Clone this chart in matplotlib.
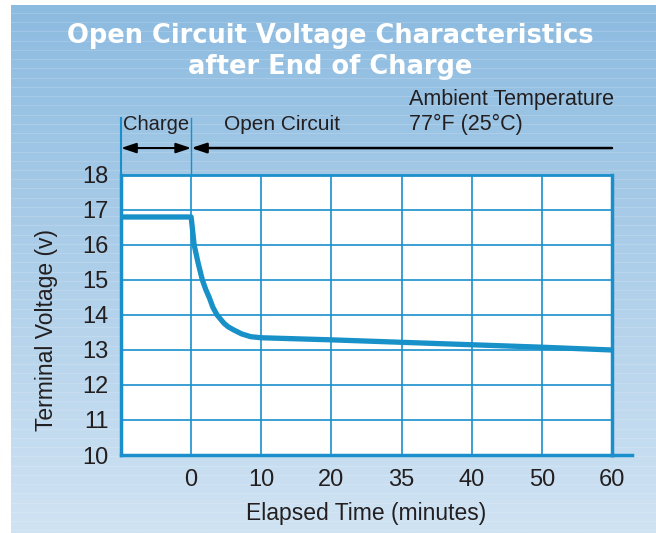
import numpy as np
import matplotlib
matplotlib.use("Agg")
import matplotlib.pyplot as plt

# data (time in minutes, voltage in volts)
minutes = [-10, 0, 0.2, 0.43, 1.0, 1.6, 2.1, 2.6, 3.1, 3.7, 4.7, 5.3, 6.1, 7.2, 8.5, 10,
           20, 30, 40, 50, 60]
volts = [16.8, 16.8, 16.43, 16.0, 15.48, 15.0, 14.72, 14.49, 14.22, 14.0, 13.76, 13.66, 13.57,
         13.46, 13.38, 13.35, 13.29, 13.22, 13.15, 13.08, 13.0]

x_ticks = [0, 10, 20, 30, 40, 50, 60]
x_labels = ['0', '10', '20', '35', '40', '50', '60']
y_ticks = [10, 11, 12, 13, 14, 15, 16, 17, 18]

BLUE = '#1a8fcc'
LINE = '#1890c8'
DARK = '#231f20'

plt.rcParams['font.family'] = ['Liberation Sans', 'DejaVu Sans']

W, H = 656, 533
fig = plt.figure(figsize=(W / 100, H / 100), dpi=100, facecolor='white')

# blue gradient panel behind everything
bg = fig.add_axes([11 / W, 0, (W - 11) / W, (H - 5) / H], zorder=-5)
top = np.array([0x8c, 0xbb, 0xe0]) / 255
bot = np.array([0xd0, 0xe3, 0xf3]) / 255
t = np.linspace(0, 1, 256)[:, None]
grad = top + (bot - top) * t
bg.imshow(grad[:, None, :].repeat(2, axis=1), aspect='auto', extent=[0, 1, 0, 1], origin='upper')
for yy in np.arange(0.005, 1, 0.0175):
    bg.axhline(yy, color='white', lw=0.6, alpha=0.18)
bg.set_xlim(0, 1)
bg.set_ylim(0, 1)
bg.axis('off')

fig.text(330 / W, 1 - 36 / H, 'Open Circuit Voltage Characteristics', color='white',
         fontsize=18.5, fontweight='bold', family=['DejaVu Sans'], ha='center', va='center')
fig.text(330 / W, 1 - 67 / H, 'after End of Charge', color='white',
         fontsize=18.5, fontweight='bold', family=['DejaVu Sans'], ha='center', va='center')

ax = fig.add_axes([121 / W, 78 / H, 491 / W, 280 / H])
ax.set_facecolor('white')
ax.plot(minutes, volts, color=LINE, lw=3.8, solid_capstyle='butt', solid_joinstyle='round', zorder=3)

ax.set_xlim(-10, 60)
ax.set_ylim(10, 18)
ax.set_xticks(x_ticks)
ax.set_xticklabels(x_labels)
ax.set_yticks(y_ticks)
ax.tick_params(length=0, labelsize=17, colors=DARK)
ax.tick_params(axis='x', pad=10)
ax.tick_params(axis='y', pad=9)
ax.grid(True, color=BLUE, lw=1.2)
for side, w in [('left', 2.5), ('bottom', 2.5), ('top', 2), ('right', 2.5)]:
    ax.spines[side].set_color(BLUE)
    ax.spines[side].set_linewidth(w)

ax.plot([60, 62.9], [10, 10], color=BLUE, lw=2.5, clip_on=False)
ax.plot([-10, -10], [18, 19.63], color=BLUE, lw=1.5, clip_on=False)
ax.plot([0, 0], [18, 19.63], color=BLUE, lw=1, clip_on=False)

ax.annotate('', xy=(-10, 18.77), xytext=(0, 18.77), annotation_clip=False,
            arrowprops=dict(arrowstyle='<|-|>,head_length=0.9,head_width=0.3', color='black', lw=1.5,
                            shrinkA=0, shrinkB=0))
ax.annotate('', xy=(0, 18.77), xytext=(60, 18.77), annotation_clip=False,
            arrowprops=dict(arrowstyle='-|>,head_length=0.9,head_width=0.3', color='black', lw=1.8,
                            shrinkA=0, shrinkB=0))

ax.text(-5.0, 19.45, 'Charge', fontsize=14.5, color=DARK, ha='center', va='center')
ax.text(13, 19.45, 'Open Circuit', fontsize=15, color=DARK, ha='center', va='center')
ax.text(31, 20.15, 'Ambient Temperature', fontsize=15.5, color=DARK, ha='left', va='center')
ax.text(31, 19.45, '77°F (25°C)', fontsize=15.5, color=DARK, ha='left', va='center')

ax.set_xlabel('Elapsed Time (minutes)', fontsize=16.5, color=DARK, labelpad=8)
fig.text(47 / W, 1 - 330 / H, 'Terminal Voltage (v)', fontsize=16.5, color=DARK,
         rotation=90, ha='center', va='center')

fig.savefig('out.png', dpi=100, facecolor='white')
